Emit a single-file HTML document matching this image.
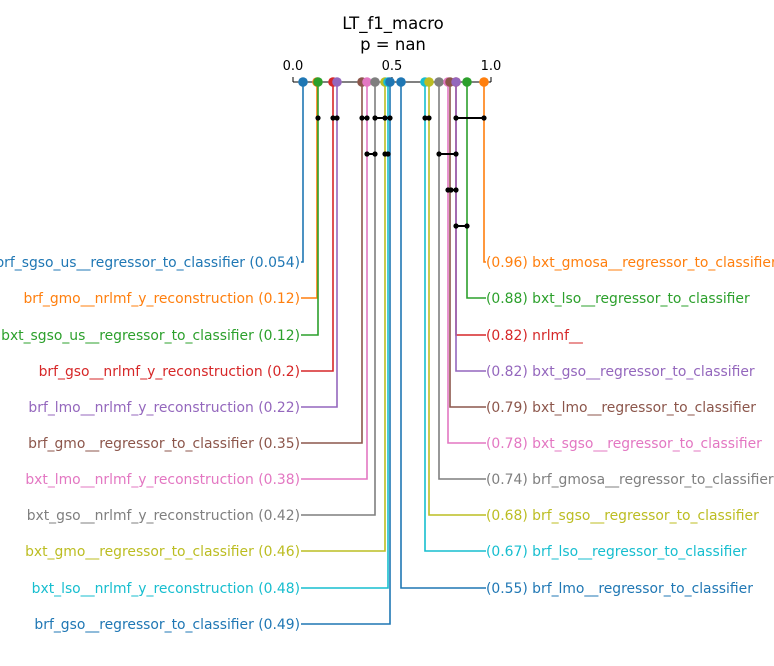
<!DOCTYPE html>
<html><head><meta charset="utf-8"><style>body{margin:0;background:#fff}svg{display:block}text{font-family:"DejaVu Sans",sans-serif;font-size:13.9px}</style></head>
<body>
<svg width="774" height="666" viewBox="0 0 774 666" xmlns="http://www.w3.org/2000/svg">
<rect width="774" height="666" fill="#fff"/>
<text x="393" y="29" text-anchor="middle" style="font-size:16.5px">LT_f1_macro</text>
<text x="393" y="50" text-anchor="middle" style="font-size:16.5px">p = nan</text>
<g stroke="#000" stroke-width="1">
<line x1="293" y1="82" x2="491" y2="82"/>
<line x1="293" y1="77" x2="293" y2="82"/>
<line x1="392" y1="77" x2="392" y2="82"/>
<line x1="491" y1="77" x2="491" y2="82"/>
</g>
<text x="293" y="70" text-anchor="middle" style="font-size:13px">0.0</text>
<text x="392" y="70" text-anchor="middle" style="font-size:13px">0.5</text>
<text x="491" y="70" text-anchor="middle" style="font-size:13px">1.0</text>
<g fill="none" stroke-width="1.6">
<path d="M303 82V262H301" stroke="#1f77b4"/>
<path d="M317 82V298H301" stroke="#ff7f0e"/>
<path d="M318 82V335H301" stroke="#2ca02c"/>
<path d="M333 82V371H301" stroke="#d62728"/>
<path d="M337 82V407H301" stroke="#9467bd"/>
<path d="M362 82V443H301" stroke="#8c564b"/>
<path d="M367 82V479H301" stroke="#e377c2"/>
<path d="M375 82V515H301" stroke="#7f7f7f"/>
<path d="M385 82V551H301" stroke="#bcbd22"/>
<path d="M388 82V588H301" stroke="#17becf"/>
<path d="M390 82V624H301" stroke="#1f77b4"/>
<path d="M484 82V262H486" stroke="#ff7f0e"/>
<path d="M467 82V298H486" stroke="#2ca02c"/>
<path d="M456 82V335H486" stroke="#d62728"/>
<path d="M456 82V371H486" stroke="#9467bd"/>
<path d="M450 82V407H486" stroke="#8c564b"/>
<path d="M448 82V443H486" stroke="#e377c2"/>
<path d="M439 82V479H486" stroke="#7f7f7f"/>
<path d="M429 82V515H486" stroke="#bcbd22"/>
<path d="M425 82V551H486" stroke="#17becf"/>
<path d="M401 82V588H486" stroke="#1f77b4"/>
</g>
<g>
<circle cx="303" cy="82" r="4.8" fill="#1f77b4"/>
<circle cx="317" cy="82" r="4.8" fill="#ff7f0e"/>
<circle cx="318" cy="82" r="4.8" fill="#2ca02c"/>
<circle cx="333" cy="82" r="4.8" fill="#d62728"/>
<circle cx="337" cy="82" r="4.8" fill="#9467bd"/>
<circle cx="362" cy="82" r="4.8" fill="#8c564b"/>
<circle cx="367" cy="82" r="4.8" fill="#e377c2"/>
<circle cx="375" cy="82" r="4.8" fill="#7f7f7f"/>
<circle cx="385" cy="82" r="4.8" fill="#bcbd22"/>
<circle cx="388" cy="82" r="4.8" fill="#17becf"/>
<circle cx="390" cy="82" r="4.8" fill="#1f77b4"/>
<circle cx="401" cy="82" r="4.8" fill="#1f77b4"/>
<circle cx="425" cy="82" r="4.8" fill="#17becf"/>
<circle cx="429" cy="82" r="4.8" fill="#bcbd22"/>
<circle cx="439" cy="82" r="4.8" fill="#7f7f7f"/>
<circle cx="448" cy="82" r="4.8" fill="#e377c2"/>
<circle cx="450" cy="82" r="4.8" fill="#8c564b"/>
<circle cx="456" cy="82" r="4.8" fill="#d62728"/>
<circle cx="456" cy="82" r="4.8" fill="#9467bd"/>
<circle cx="467" cy="82" r="4.8" fill="#2ca02c"/>
<circle cx="484" cy="82" r="4.8" fill="#ff7f0e"/>
</g>
<g stroke="#000" stroke-width="2">
<line x1="333" y1="118" x2="337" y2="118"/>
<line x1="362" y1="118" x2="367" y2="118"/>
<line x1="375" y1="118" x2="390" y2="118"/>
<line x1="425" y1="118" x2="429" y2="118"/>
<line x1="456" y1="118" x2="484" y2="118"/>
<line x1="367" y1="154" x2="375" y2="154"/>
<line x1="385" y1="154" x2="388" y2="154"/>
<line x1="439" y1="154" x2="456" y2="154"/>
<line x1="448" y1="190" x2="456" y2="190"/>
<line x1="456" y1="226" x2="467" y2="226"/>
</g>
<g fill="#000">
<circle cx="318" cy="118" r="2.6"/>
<circle cx="333" cy="118" r="2.6"/><circle cx="337" cy="118" r="2.6"/>
<circle cx="362" cy="118" r="2.6"/><circle cx="367" cy="118" r="2.6"/>
<circle cx="375" cy="118" r="2.6"/><circle cx="385" cy="118" r="2.6"/><circle cx="390" cy="118" r="2.6"/>
<circle cx="425" cy="118" r="2.6"/><circle cx="429" cy="118" r="2.6"/>
<circle cx="456" cy="118" r="2.6"/><circle cx="484" cy="118" r="2.6"/>
<circle cx="367" cy="154" r="2.6"/><circle cx="375" cy="154" r="2.6"/>
<circle cx="385" cy="154" r="2.6"/><circle cx="388" cy="154" r="2.6"/>
<circle cx="439" cy="154" r="2.6"/><circle cx="456" cy="154" r="2.6"/>
<circle cx="448" cy="190" r="2.6"/><circle cx="451" cy="190" r="2.6"/><circle cx="456" cy="190" r="2.6"/>
<circle cx="456" cy="226" r="2.6"/><circle cx="467" cy="226" r="2.6"/>
</g>
<g text-anchor="end">
<text x="300" y="267" fill="#1f77b4">brf_sgso_us__regressor_to_classifier (0.054)</text>
<text x="300" y="303" fill="#ff7f0e">brf_gmo__nrlmf_y_reconstruction (0.12)</text>
<text x="300" y="340" fill="#2ca02c">bxt_sgso_us__regressor_to_classifier (0.12)</text>
<text x="300" y="376" fill="#d62728">brf_gso__nrlmf_y_reconstruction (0.2)</text>
<text x="300" y="412" fill="#9467bd">brf_lmo__nrlmf_y_reconstruction (0.22)</text>
<text x="300" y="448" fill="#8c564b">brf_gmo__regressor_to_classifier (0.35)</text>
<text x="300" y="484" fill="#e377c2">bxt_lmo__nrlmf_y_reconstruction (0.38)</text>
<text x="300" y="520" fill="#7f7f7f">bxt_gso__nrlmf_y_reconstruction (0.42)</text>
<text x="300" y="556" fill="#bcbd22">bxt_gmo__regressor_to_classifier (0.46)</text>
<text x="300" y="593" fill="#17becf">bxt_lso__nrlmf_y_reconstruction (0.48)</text>
<text x="300" y="629" fill="#1f77b4">brf_gso__regressor_to_classifier (0.49)</text>
</g>
<g>
<text x="486" y="267" fill="#ff7f0e">(0.96) bxt_gmosa__regressor_to_classifier</text>
<text x="486" y="303" fill="#2ca02c">(0.88) bxt_lso__regressor_to_classifier</text>
<text x="486" y="340" fill="#d62728">(0.82) nrlmf__</text>
<text x="486" y="376" fill="#9467bd">(0.82) bxt_gso__regressor_to_classifier</text>
<text x="486" y="412" fill="#8c564b">(0.79) bxt_lmo__regressor_to_classifier</text>
<text x="486" y="448" fill="#e377c2">(0.78) bxt_sgso__regressor_to_classifier</text>
<text x="486" y="484" fill="#7f7f7f">(0.74) brf_gmosa__regressor_to_classifier</text>
<text x="486" y="520" fill="#bcbd22">(0.68) brf_sgso__regressor_to_classifier</text>
<text x="486" y="556" fill="#17becf">(0.67) brf_lso__regressor_to_classifier</text>
<text x="486" y="593" fill="#1f77b4">(0.55) brf_lmo__regressor_to_classifier</text>
</g>
</svg>
</body></html>
